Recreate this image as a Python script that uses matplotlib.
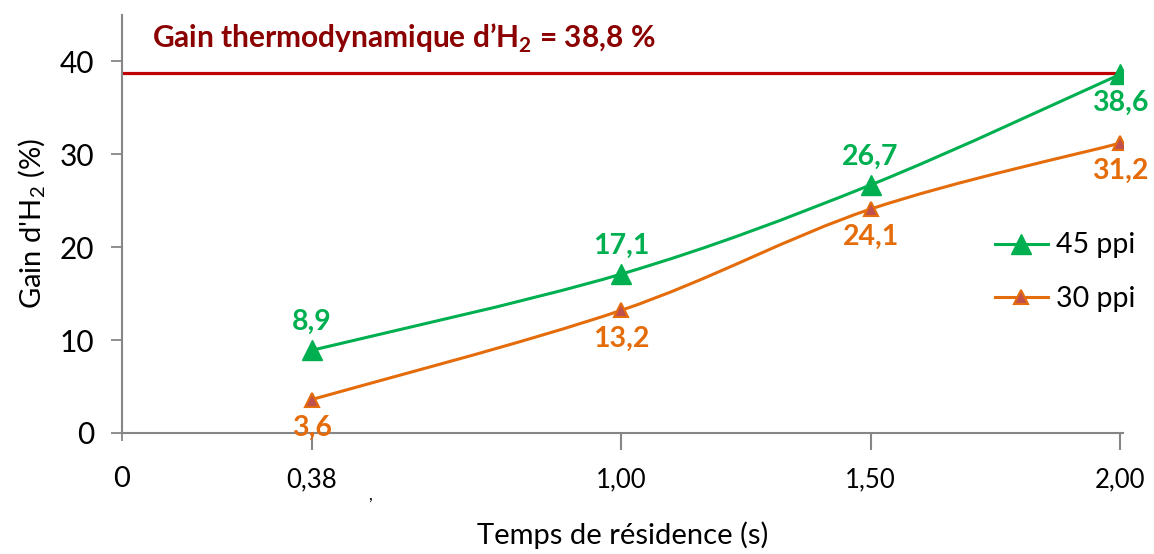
import matplotlib
matplotlib.use("Agg")
import matplotlib.pyplot as plt
from matplotlib.path import Path
from matplotlib.patches import PathPatch
from matplotlib.lines import Line2D
import numpy as np

plt.rcParams['font.family'] = ['Lato', 'DejaVu Sans']
plt.rcParams['mathtext.fontset'] = 'custom'
plt.rcParams['mathtext.rm'] = 'Lato'
plt.rcParams['mathtext.bf'] = 'Lato:bold'

# Residence time (s) and hydrogen gain (%) per foam porosity
temps = [0.38, 1.00, 1.50, 2.00]
tick_labels = ["0,38", "1,00", "1,50", "2,00"]
gain_45ppi = [8.9, 17.1, 26.7, 38.6]
gain_30ppi = [3.6, 13.2, 24.1, 31.2]
gain_thermo = 38.8

GREEN = "#00B050"
ORANGE = "#E46C0A"
ORANGE_FACE = "#C0504D"
RED = "#C00000"
DARKRED = "#8B0000"
GRAY = "#868686"


def smooth_path(xs, ys):
    """Cubic Bezier path through the points (Catmull-Rom style smoothing)."""
    pts = np.column_stack([xs, ys]).astype(float)
    n = len(pts)
    verts = [pts[0]]
    codes = [Path.MOVETO]
    for i in range(n - 1):
        p0 = pts[i - 1] if i > 0 else pts[i]
        p1 = pts[i]
        p2 = pts[i + 1]
        p3 = pts[i + 2] if i + 2 < n else pts[i + 1]
        c1 = p1 + (p2 - p0) / 6.0
        c2 = p2 - (p3 - p1) / 6.0
        verts += [c1, c2, p2]
        codes += [Path.CURVE4] * 3
    return Path(verts, codes)


fig = plt.figure(figsize=(11.54, 5.54), dpi=100)
ax = fig.add_axes([122 / 1154, 1 - 433 / 554, (1122.5 - 122) / 1154, (433 - 15) / 554])

ax.set_xlim(0, 2.005)
ax.set_ylim(0, 45)

# Thermodynamic limit
ax.axhline(gain_thermo, color=RED, lw=2.3, zorder=2)
fig.text(152 / 1154, 1 - 38 / 554, r"Gain thermodynamique d’H$_\mathbf{2}$ = 38,8 %",
         color=DARKRED, fontsize=21.5, fontweight='bold', va='center', ha='left')

# Smoothed series curves
for ys, col in [(gain_45ppi, GREEN), (gain_30ppi, ORANGE)]:
    ax.add_patch(PathPatch(smooth_path(temps, ys), facecolor='none',
                           edgecolor=col, lw=2.2, zorder=3))

ax.plot(temps, gain_45ppi, ls='none', marker='^', ms=14, color=GREEN,
        mec=GREEN, zorder=4)
ax.plot(temps, gain_30ppi, ls='none', marker='^', ms=9.5, mfc=ORANGE_FACE,
        mec=ORANGE, mew=1.5, zorder=4)

# Value labels
green_off = [1, 1, 1, -1]
for x, y, o in zip(temps, gain_45ppi, green_off):
    ax.annotate(f"{y:.1f}".replace('.', ','), (x, y),
                xytext=(0, 28 * o), textcoords='offset pixels',
                ha='center', va='center', color=GREEN,
                fontsize=20.5, fontweight='bold', zorder=5)
for x, y in zip(temps, gain_30ppi):
    ax.annotate(f"{y:.1f}".replace('.', ','), (x, y),
                xytext=(0, -28), textcoords='offset pixels',
                ha='center', va='center', color=ORANGE,
                fontsize=20.5, fontweight='bold', zorder=5)

# Axes styling
for s in ['top', 'right']:
    ax.spines[s].set_visible(False)
for s in ['left', 'bottom']:
    ax.spines[s].set_color(GRAY)
    ax.spines[s].set_linewidth(1.5)

ax.set_yticks([0, 10, 20, 30, 40])
ax.tick_params(axis='y', length=8, width=1.3, color=GRAY, labelsize=21.5, pad=12)
ax.set_xticks(temps, tick_labels)
ax.tick_params(axis='x', which='major', length=12, width=1.5, color=GRAY,
               labelsize=18.5, pad=13)
ax.set_xticks([0], ['0'], minor=True)
ax.tick_params(axis='x', which='minor', length=6, width=1.3, color=GRAY,
               labelsize=21, pad=18)

ax.set_xlabel("Temps de résidence (s)", fontsize=21, labelpad=21)
ax.set_ylabel(r"Gain d'H$_\mathregular{2}$ (%)", fontsize=21, labelpad=8)

fig.text(370 / 1154, 1 - 495 / 554, ",", fontsize=12, ha='center', va='center')

# Legend
handles = [
    Line2D([], [], color=GREEN, lw=2.2, marker='^', ms=14, mec=GREEN),
    Line2D([], [], color=ORANGE, lw=2.2, marker='^', ms=9.5,
           mfc=ORANGE_FACE, mec=ORANGE, mew=1.5),
]
fig.legend(handles, ["45 ppi", "30 ppi"], loc='center left',
           bbox_to_anchor=(995 / 1154, 1 - 272 / 554), frameon=False,
           borderaxespad=0, borderpad=0,
           fontsize=20.5, handlelength=1.85, handletextpad=0.3, labelspacing=0.95)

fig.savefig("out.png", dpi=100)
